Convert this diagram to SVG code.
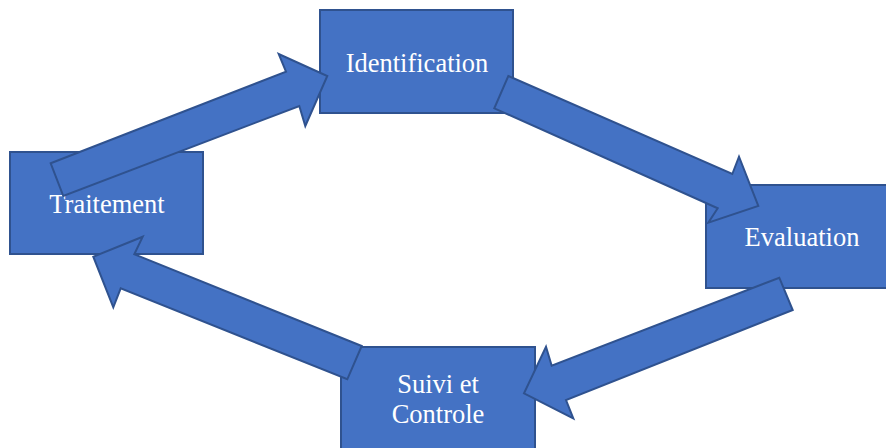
<svg xmlns="http://www.w3.org/2000/svg" width="886" height="448" viewBox="0 0 886 448">
<style>
.box{fill:#4472C4;stroke:#2F528F;stroke-width:2}
.arr{fill:#4472C4;stroke:#2F528F;stroke-width:2;stroke-linejoin:miter}
.lbl{font-family:'Liberation Serif','Times New Roman',Times,serif;font-size:26.5px;fill:#FFFFFF;text-anchor:middle}
</style>
<rect width="886" height="448" fill="#FFFFFF"/>
<g id="node-identification">
<rect class="box" x="320" y="10" width="193" height="103"/>
<text class="lbl" x="417" y="72" font-family="Liberation Serif, serif">Identification</text>
</g>
<g id="node-traitement">
<rect class="box" x="10" y="152" width="193" height="102"/>
<text class="lbl" x="107" y="213" font-family="Liberation Serif, serif">Traitement</text>
</g>
<g id="node-evaluation">
<rect class="box" x="706" y="185" width="193" height="103"/>
<text class="lbl" x="802" y="246" font-family="Liberation Serif, serif">Evaluation</text>
</g>
<g id="node-suivi">
<rect class="box" x="341" y="347" width="194" height="104"/>
<text class="lbl" x="438" y="393" font-family="Liberation Serif, serif">Suivi et</text>
<text class="lbl" x="438" y="423" font-family="Liberation Serif, serif">Controle</text>
</g>
<g id="connectors">
<polygon class="arr" points="50.7,163.3 286,71.7 278.7,54 327.3,76 305.3,126 299.3,106 63.3,196"/>
<polygon class="arr" points="508.3,76 732.3,174 739,156.7 758.3,206 708.3,222.7 717.7,208.3 494.3,108.3"/>
<polygon class="arr" points="792.7,310 566,400 573.3,418.3 524,393.3 546,346.7 551.7,365.7 779.3,277.7"/>
<polygon class="arr" points="361.7,346 134.3,254.3 142.7,236.7 93.3,256.7 113.3,307.3 120.7,288.3 347.3,379.3"/>
</g>
</svg>
